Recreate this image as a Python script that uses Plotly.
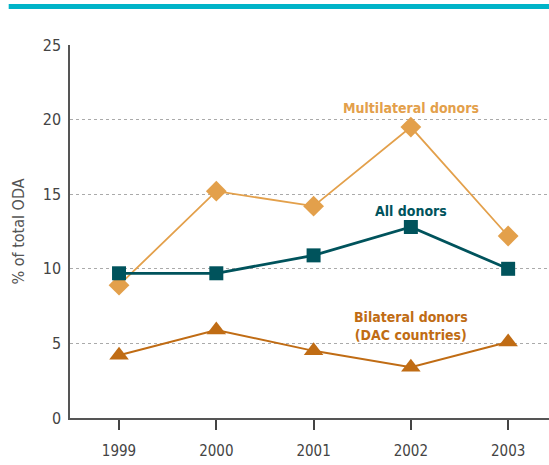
import plotly.graph_objects as go

years = [1999, 2000, 2001, 2002, 2003]
multilateral = [8.9, 15.2, 14.2, 19.5, 12.2]
all_donors = [9.7, 9.7, 10.9, 12.8, 10.0]
bilateral = [4.2, 5.9, 4.5, 3.4, 5.1]
y_ticks = [0, 5, 10, 15, 20, 25]

C_MULTI = "#E3A04B"
C_ALL = "#00535C"
C_BI = "#C06C14"
FONT = "DejaVu Sans Condensed, Liberation Sans Narrow, Liberation Sans, Arial"

fig = go.Figure()
fig.add_trace(go.Scatter(x=years, y=multilateral, mode="lines+markers",
                         line=dict(color=C_MULTI, width=1.8),
                         marker=dict(symbol="diamond", size=16, color=C_MULTI),
                         name="Multilateral donors"))
fig.add_trace(go.Scatter(x=years, y=bilateral, mode="lines+markers",
                         line=dict(color=C_BI, width=2),
                         marker=dict(symbol="triangle-up", size=17, color=C_BI),
                         name="Bilateral donors (DAC countries)"))
fig.add_trace(go.Scatter(x=years, y=all_donors, mode="lines+markers",
                         line=dict(color=C_ALL, width=2.8),
                         marker=dict(symbol="square", size=14, color=C_ALL),
                         name="All donors"))

annots = [
    dict(x=2002, y=20.75, text="<b>Multilateral donors</b>", color=C_MULTI),
    dict(x=2002, y=13.85, text="<b>All donors</b>", color=C_ALL),
    dict(x=2002, y=6.15, text="<b>Bilateral donors<br>(DAC countries)</b>", color=C_BI),
]
for a in annots:
    fig.add_annotation(x=a["x"], y=a["y"], text=a["text"], showarrow=False,
                       font=dict(family=FONT, size=14, color=a["color"]),
                       xref="x", yref="y")

# top teal bar
fig.add_shape(type="rect", xref="paper", yref="paper",
              x0=-0.128, x1=1.0, y0=1.0 + 36/373, y1=1.0 + 41/373,
              fillcolor="#00B4C8", line_width=0, layer="above")

fig.update_layout(
    width=549, height=465,
    margin=dict(l=70, r=0, t=45, b=47),
    paper_bgcolor="white", plot_bgcolor="white",
    showlegend=False,
    font=dict(family=FONT, color="#444444", size=15),
    xaxis=dict(range=[1998.496, 2003.42], tickvals=years, ticktext=[str(y) for y in years],
               showgrid=False, zeroline=False, showline=True, linecolor="#555555", linewidth=1.5,
               ticks="outside", ticklen=10, tickwidth=1.5, tickcolor="#444444",
               ticklabelstandoff=8,
               tickfont=dict(size=15, color="#444444", family=FONT)),
    yaxis=dict(range=[0, 25], tickvals=y_ticks, showgrid=True, gridcolor="#AAAAAA",
               griddash="dot", gridwidth=1, zeroline=False, showline=True,
               linecolor="#555555", linewidth=1.5, ticks="", ticklabelstandoff=4,
               tickfont=dict(size=16, color="#444444", family=FONT),
               title=dict(text="% of total ODA", standoff=14,
                          font=dict(size=16, color="#555555", family=FONT))),
)

fig.write_html("out.html", config={"displayModeBar": False},
               post_script="document.body.style.margin='0';")
